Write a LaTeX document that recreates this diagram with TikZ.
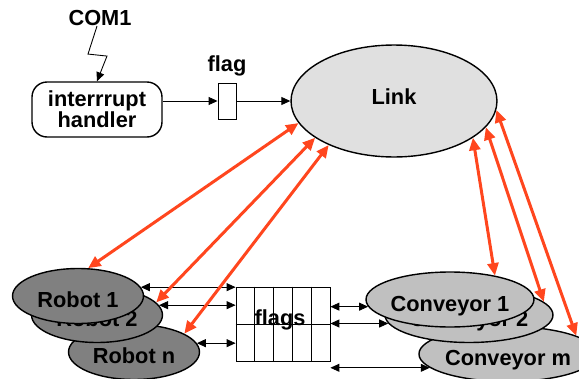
\documentclass[tikz,border=0pt]{standalone}
\usepackage{fontspec}
\setmainfont{Liberation Sans}
\usepackage{tikz}
\usetikzlibrary{shapes.geometric, arrows.meta, positioning, calc}
\definecolor{linkgray}{RGB}{224,224,224}
\definecolor{robotgray}{RGB}{128,128,128}
\definecolor{convgray}{RGB}{192,192,192}
\definecolor{wire}{RGB}{255,70,30}
\tikzstyle{txt} = [font=\fontsize{12.4}{12}\selectfont\bfseries, inner sep=0pt]
\tikzstyle{blob} = [ellipse, draw=black, line width=0.8pt, inner sep=0pt, txt]
\tikzstyle{lowtext} = [text height=0.52cm, text depth=0.06cm]
\tikzstyle{robot} = [blob, lowtext, fill=robotgray, minimum width=2.62cm, minimum height=1.1cm]
\tikzstyle{conveyor} = [blob, lowtext, fill=convgray, minimum width=3.36cm, minimum height=1.1cm]
\tikzstyle{handlerbox} = [rectangle, rounded corners=0.3cm, draw=black, line width=0.8pt, minimum width=2.6cm, minimum height=1.1cm, align=center, txt]
\tikzstyle{flagcell} = [rectangle, draw=black, line width=0.5pt, minimum width=0.36cm, minimum height=0.72cm]
\tikzstyle{arrow} = [line width=0.5pt, -{Triangle[length=0.18cm, width=0.16cm]}]
\tikzstyle{biarrow} = [line width=0.5pt, {Triangle[length=0.18cm, width=0.16cm]}-{Triangle[length=0.18cm, width=0.16cm]}]
\tikzstyle{redarrow} = [draw=wire, line width=0.06cm, {Triangle[length=0.25cm, width=0.22cm]}-{Triangle[length=0.25cm, width=0.22cm]}]

\begin{document}
\begin{tikzpicture}[x=0.02cm, y=-0.02cm]
\useasboundingbox (0,0) rectangle (579,379);

% serial port, interrupt handler and the flag into Link
\node[txt] (com1) at (100,18) {COM1};
\node[handlerbox] (handler) at (97,109.5) {interrrupt\\handler};
\node[flagcell] (flagbx) at (227,101) {};
\node[txt, above=0.13cm of flagbx] (flaglbl) {flag};
\node[blob, fill=linkgray, minimum width=4.12cm, minimum height=2.24cm,
      text height=0.32cm, text depth=0.2cm] (link) at (394,101) {Link};

\draw[arrow] ([xshift=-0.06cm]com1.south) -- ++(-9,28) -- ++(19,2) -- (handler.north);
\draw[arrow] (flagbx.west -| handler.east) -- (flagbx.west);
\draw[arrow] (flagbx.east) -- (link.west);

% robots, back to front
\node[robot] (robn) at (134,352) {Robot n};
\node[robot] (rob2) at (97,315) {Robot 2};
\node[robot] (rob1) at (78,296) {Robot 1};

% conveyors, back to front
\node[conveyor] (convm) at (508,354) {Conveyor m};
\node[conveyor] (conv2) at (469,315) {Conveyor 2};
\node[conveyor] (conv1) at (450,299.5) {Conveyor 1};

% shared flag table
\node[rectangle, draw=black, line width=0.5pt, minimum width=1.88cm, minimum height=1.48cm, txt] (flags) at (283,324) {};
\foreach \i in {1,...,4}
  \draw[line width=0.5pt] ($(flags.north west)!\i/5!(flags.north east)$) -- ($(flags.south west)!\i/5!(flags.south east)$);
\draw[line width=0.5pt] (flags.west) -- (flags.east);
\node[txt] (flagstxt) at ([xshift=-0.06cm, yshift=0.08cm]flags.center) {flags};

\draw[biarrow] (rob1.8) -- (rob1.8 -| flags.west);
\draw[biarrow] (rob2.9) -- (rob2.9 -| flags.west);
\draw[biarrow] (robn.8) -- (robn.8 -| flags.west);
\draw[biarrow] (conv1.185 -| flags.east) -- (conv1.185);
\draw[biarrow] (conv2.186 -| flags.east) -- (conv2.186);
\draw[biarrow] (convm.190 -| flags.east) -- (convm.190);

% links to every robot and conveyor
\draw[redarrow] (link.193) -- (rob1.70);
\draw[redarrow] (link.205) -- (rob2.12);
\draw[redarrow] (link.214) -- (robn.20);
\draw[redarrow] (link.335) -- (conv1.28);
\draw[redarrow] (link.344) -- (conv2.10);
\draw[redarrow] (link.355) -- (convm.15);

\end{tikzpicture}
\end{document}
